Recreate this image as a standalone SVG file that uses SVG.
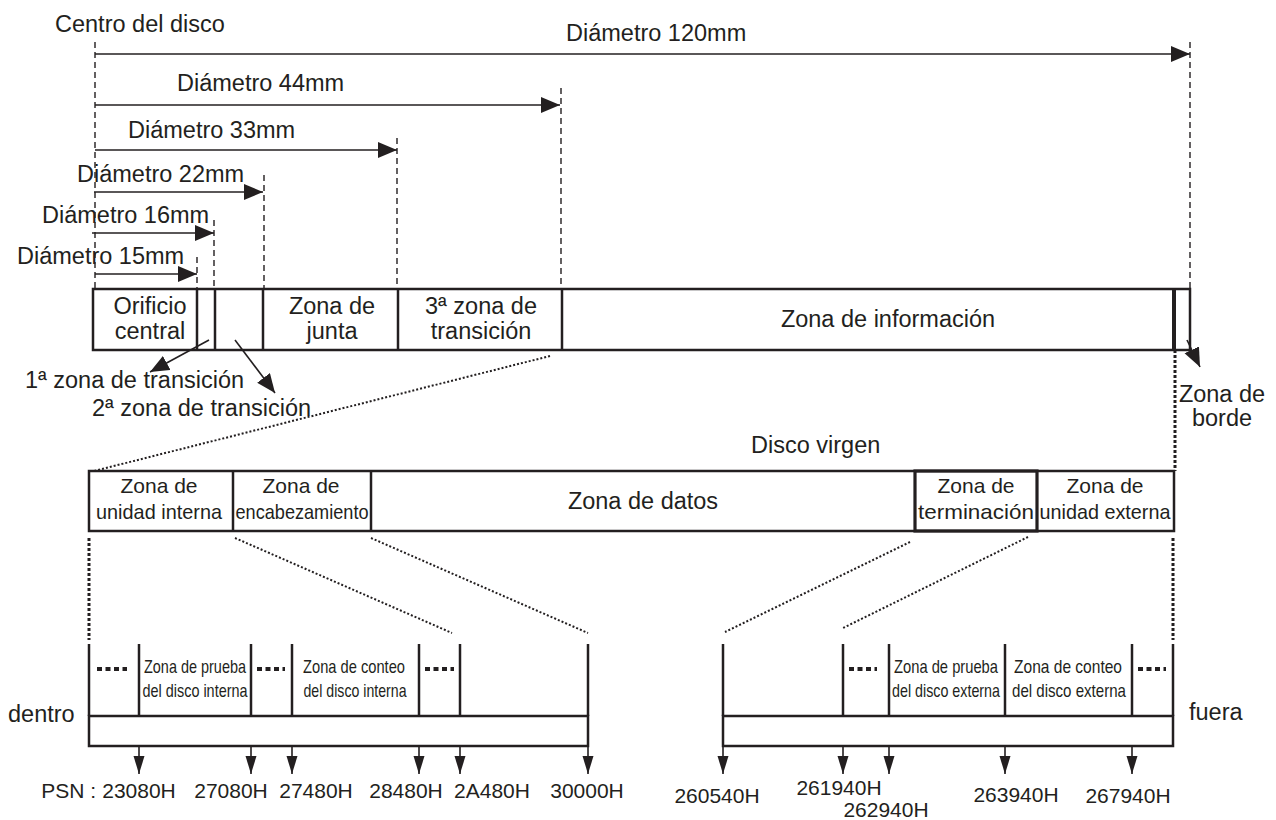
<svg xmlns="http://www.w3.org/2000/svg" width="1276" height="820" viewBox="0 0 1276 820">
  <style>
    text { font-family: "Liberation Sans", Arial, Helvetica, sans-serif; fill: #231f20; }
    .t { font-size: 23.5px; }
    .c { font-size: 21px; }
    .n { font-size: 19px; }
    .psn { font-size: 21px; }
    .mid { text-anchor: middle; }
    .box { fill: #fff; stroke: #231f20; stroke-width: 2.5; }
    .div { stroke: #231f20; stroke-width: 2.5; fill: none; }
    .dash { stroke: #231f20; stroke-width: 1.4; stroke-dasharray: 6 4; fill: none; }
    .dim { stroke: #231f20; stroke-width: 1.6; fill: none; }
    .dot { stroke: #231f20; stroke-width: 2; stroke-dasharray: 2 2; fill: none; }
    .dotv { stroke: #231f20; stroke-width: 3; stroke-dasharray: 3 2; fill: none; }
    .dots { stroke: #231f20; stroke-width: 4; stroke-dasharray: 5 3.5; fill: none; }
  </style>
  <defs>
    <marker id="ah" markerUnits="userSpaceOnUse" markerWidth="20" markerHeight="17" refX="19" refY="8" orient="auto">
      <path d="M0,0 L19,8 L0,16 z" fill="#231f20"/>
    </marker>
    <marker id="ahs" markerUnits="userSpaceOnUse" markerWidth="19" markerHeight="12" refX="18" refY="5.5" orient="auto">
      <path d="M0,0 L18,5.5 L0,11 z" fill="#231f20"/>
    </marker>
  </defs>

  <!-- diameter dimensions measured from the disc centre -->
  <g id="dimensions">
    <text class="t" x="55" y="32">Centro del disco</text>
    <line class="dash" x1="95" y1="42" x2="95" y2="290"/>
    <text class="t" x="566" y="41">Diámetro 120mm</text>
    <line class="dim" x1="95" y1="54" x2="1190" y2="54" marker-end="url(#ah)"/>
    <line class="dash" x1="1190" y1="42" x2="1190" y2="290"/>
    <text class="t" x="177" y="91">Diámetro 44mm</text>
    <line class="dim" x1="95" y1="105" x2="560" y2="105" marker-end="url(#ah)"/>
    <line class="dash" x1="561" y1="88" x2="561" y2="290"/>
    <text class="t" x="128" y="138">Diámetro 33mm</text>
    <line class="dim" x1="95" y1="150" x2="397" y2="150" marker-end="url(#ah)"/>
    <line class="dash" x1="397" y1="138" x2="397" y2="290"/>
    <text class="t" x="77" y="182">Diámetro 22mm</text>
    <line class="dim" x1="94" y1="192" x2="263" y2="192" marker-end="url(#ah)"/>
    <line class="dash" x1="264" y1="175" x2="264" y2="290"/>
    <text class="t" x="42" y="223">Diámetro 16mm</text>
    <line class="dim" x1="92" y1="233" x2="214" y2="233" marker-end="url(#ah)"/>
    <line class="dash" x1="214" y1="220" x2="214" y2="290"/>
    <text class="t" x="17" y="264">Diámetro 15mm</text>
    <line class="dim" x1="95" y1="274" x2="197" y2="274" marker-end="url(#ah)"/>
    <line class="dash" x1="197" y1="257" x2="197" y2="290"/>
  </g>

  <!-- whole disc, centre to rim -->
  <g id="disc-bar">
    <rect class="box" x="93" y="289" width="1097" height="61"/>
    <line class="div" x1="197" y1="289" x2="197" y2="350"/>
    <line class="div" x1="215" y1="289" x2="215" y2="350"/>
    <line class="div" x1="263" y1="289" x2="263" y2="350"/>
    <line class="div" x1="398" y1="289" x2="398" y2="350"/>
    <line class="div" x1="562" y1="289" x2="562" y2="350"/>
    <line class="div" x1="1174" y1="289" x2="1174" y2="350" style="stroke-width:4"/>
    <text class="t mid" x="150" y="314">Orificio</text>
    <text class="t mid" x="150" y="339">central</text>
    <text class="t mid" x="332" y="314">Zona de</text>
    <text class="t mid" x="332" y="339">junta</text>
    <text class="t mid" x="481" y="314">3ª zona de</text>
    <text class="t mid" x="481" y="339">transición</text>
    <text class="t mid" x="888" y="327">Zona de información</text>
  </g>

  <g id="transition-labels">
    <text class="t" x="25" y="388">1ª zona de transición</text>
    <text class="t" x="92" y="416">2ª zona de transición</text>
  </g>

  <g id="border-label">
    <text class="t mid" x="1222" y="402">Zona de</text>
    <text class="t mid" x="1222" y="426">borde</text>
  </g>

  <!-- information zone of a blank disc -->
  <g id="blank-disc">
    <text class="t" x="751" y="453">Disco virgen</text>
    <rect class="box" x="89" y="471" width="1085" height="60"/>
    <line class="div" x1="233" y1="471" x2="233" y2="531"/>
    <line class="div" x1="371" y1="471" x2="371" y2="531"/>
    <rect x="915" y="471" width="122" height="60" fill="none" stroke="#231f20" stroke-width="3.2"/>
    <text class="c mid" x="159" y="493">Zona de</text>
    <text class="c mid" x="159" y="519" textLength="126" lengthAdjust="spacingAndGlyphs">unidad interna</text>
    <text class="c mid" x="301" y="493">Zona de</text>
    <text class="c mid" x="302" y="519" textLength="133" lengthAdjust="spacingAndGlyphs">encabezamiento</text>
    <text class="t mid" x="643" y="509">Zona de datos</text>
    <text class="c mid" x="976" y="493">Zona de</text>
    <text class="c mid" x="976" y="519" textLength="116" lengthAdjust="spacingAndGlyphs">terminación</text>
    <text class="c mid" x="1105" y="493">Zona de</text>
    <text class="c mid" x="1105" y="519" textLength="131" lengthAdjust="spacingAndGlyphs">unidad externa</text>
  </g>

  <!-- inner drive area detail -->
  <g id="inner-detail">
    <text class="t" x="8" y="722">dentro</text>
    <rect class="box" x="89" y="716" width="499" height="30"/>
    <line class="div" x1="89" y1="644" x2="89" y2="716"/>
    <line class="div" x1="139" y1="644" x2="139" y2="716"/>
    <line class="div" x1="251" y1="644" x2="251" y2="716"/>
    <line class="div" x1="292" y1="644" x2="292" y2="716"/>
    <line class="div" x1="419" y1="644" x2="419" y2="716"/>
    <line class="div" x1="460" y1="644" x2="460" y2="716"/>
    <line class="div" x1="588" y1="644" x2="588" y2="716"/>
    <line class="dots" x1="97" y1="669" x2="127" y2="669"/>
    <line class="dots" x1="257" y1="669" x2="285" y2="669"/>
    <line class="dots" x1="425" y1="669" x2="454" y2="669"/>
    <text class="n mid" x="195" y="673" textLength="102" lengthAdjust="spacingAndGlyphs">Zona de prueba</text>
    <text class="n mid" x="195" y="697" textLength="105" lengthAdjust="spacingAndGlyphs">del disco interna</text>
    <text class="n mid" x="354" y="673" textLength="102" lengthAdjust="spacingAndGlyphs">Zona de conteo</text>
    <text class="n mid" x="355" y="697" textLength="103" lengthAdjust="spacingAndGlyphs">del disco interna</text>
  </g>

  <!-- outer drive area detail -->
  <g id="outer-detail">
    <text class="t" x="1189" y="720">fuera</text>
    <rect class="box" x="723" y="716" width="450" height="30"/>
    <line class="div" x1="723" y1="644" x2="723" y2="716"/>
    <line class="div" x1="843" y1="644" x2="843" y2="716"/>
    <line class="div" x1="889" y1="644" x2="889" y2="716"/>
    <line class="div" x1="1005" y1="644" x2="1005" y2="716"/>
    <line class="div" x1="1132" y1="644" x2="1132" y2="716"/>
    <line class="div" x1="1173" y1="644" x2="1173" y2="716"/>
    <line class="dots" x1="849" y1="669" x2="877" y2="669"/>
    <line class="dots" x1="1138" y1="669" x2="1166" y2="669"/>
    <text class="n mid" x="946" y="673" textLength="104" lengthAdjust="spacingAndGlyphs">Zona de prueba</text>
    <text class="n mid" x="946" y="697" textLength="108" lengthAdjust="spacingAndGlyphs">del disco externa</text>
    <text class="n mid" x="1068" y="673" textLength="108" lengthAdjust="spacingAndGlyphs">Zona de conteo</text>
    <text class="n mid" x="1069" y="697" textLength="114" lengthAdjust="spacingAndGlyphs">del disco externa</text>
  </g>

  <!-- physical sector numbers -->
  <g id="psn-labels">
    <text class="psn" x="96" y="798" text-anchor="end">PSN :</text>
    <text class="psn mid" x="139" y="798">23080H</text>
    <text class="psn mid" x="231" y="798">27080H</text>
    <text class="psn mid" x="316" y="798">27480H</text>
    <text class="psn mid" x="406" y="798">28480H</text>
    <text class="psn mid" x="492" y="798">2A480H</text>
    <text class="psn mid" x="587" y="798">30000H</text>
    <text class="psn mid" x="717" y="803">260540H</text>
    <text class="psn mid" x="839" y="795">261940H</text>
    <text class="psn mid" x="886" y="817">262940H</text>
    <text class="psn mid" x="1016" y="802">263940H</text>
    <text class="psn mid" x="1128" y="803">267940H</text>
  </g>

  <g id="connectors">
    <!-- pointers from the disc bar to its narrow zones -->
    <line class="dim" x1="209" y1="340" x2="150" y2="372" marker-end="url(#ah)"/>
    <line class="dim" x1="235" y1="340" x2="275" y2="393" marker-end="url(#ah)"/>
    <line class="dim" x1="1187" y1="340" x2="1200" y2="367" marker-end="url(#ah)"/>
    <!-- expansion guides -->
    <line class="dot" x1="550" y1="356" x2="94" y2="471"/>
    <line class="dotv" x1="1175" y1="350" x2="1175" y2="471"/>
    <line class="dotv" x1="89" y1="538" x2="89" y2="640"/>
    <line class="dot" x1="235" y1="538" x2="452" y2="633"/>
    <line class="dot" x1="371" y1="538" x2="588" y2="633"/>
    <line class="dot" x1="910" y1="542" x2="725" y2="632"/>
    <line class="dot" x1="1028" y1="537" x2="843" y2="628"/>
    <line class="dotv" x1="1173" y1="538" x2="1173" y2="640"/>
    <!-- sector number pointers -->
    <line class="dim" x1="139" y1="746" x2="139" y2="774" marker-end="url(#ahs)"/>
    <line class="dim" x1="251" y1="746" x2="251" y2="774" marker-end="url(#ahs)"/>
    <line class="dim" x1="292" y1="746" x2="292" y2="774" marker-end="url(#ahs)"/>
    <line class="dim" x1="419" y1="746" x2="419" y2="774" marker-end="url(#ahs)"/>
    <line class="dim" x1="460" y1="746" x2="460" y2="774" marker-end="url(#ahs)"/>
    <line class="dim" x1="588" y1="746" x2="588" y2="774" marker-end="url(#ahs)"/>
    <line class="dim" x1="723" y1="746" x2="723" y2="774" marker-end="url(#ahs)"/>
    <line class="dim" x1="843" y1="746" x2="843" y2="774" marker-end="url(#ahs)"/>
    <line class="dim" x1="889" y1="746" x2="889" y2="774" marker-end="url(#ahs)"/>
    <line class="dim" x1="1005" y1="746" x2="1005" y2="774" marker-end="url(#ahs)"/>
    <line class="dim" x1="1132" y1="746" x2="1132" y2="774" marker-end="url(#ahs)"/>
  </g>
</svg>
